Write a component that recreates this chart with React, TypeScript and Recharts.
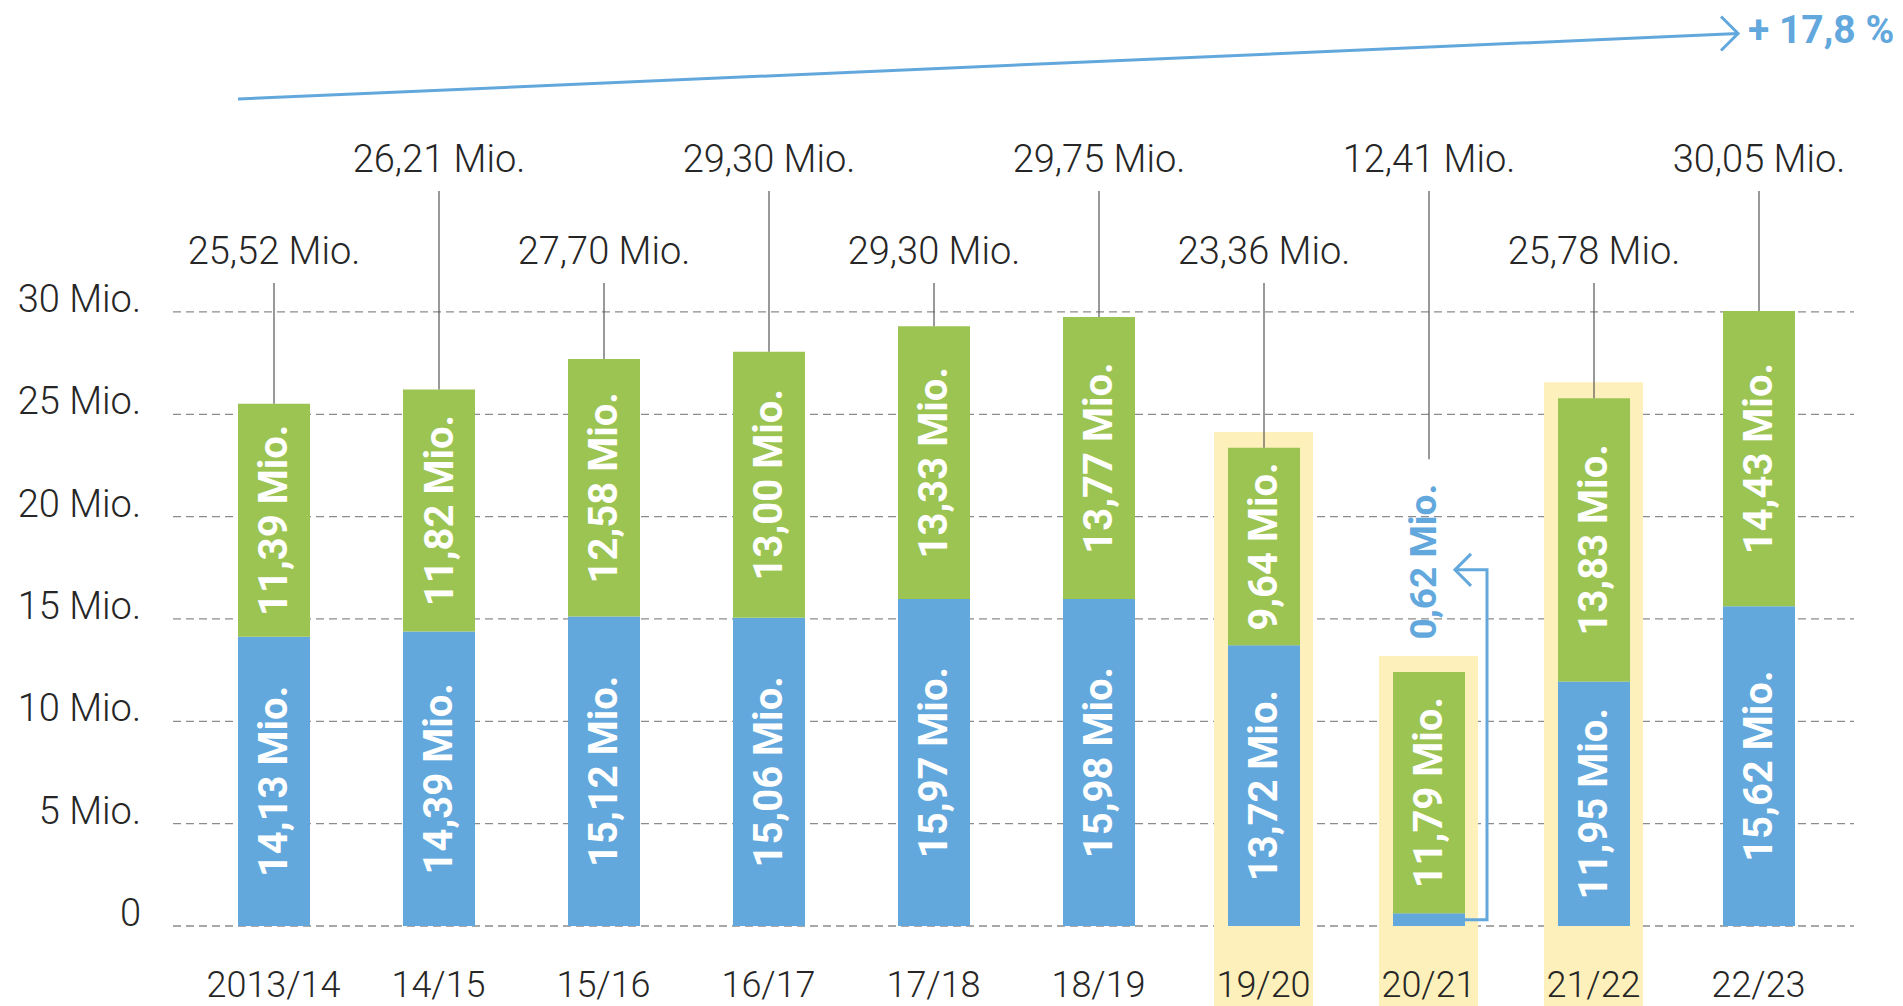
import React from 'react';
import {
    BarChart,
    Bar,
    XAxis,
    YAxis,
    CartesianGrid,
    LabelList,
    ReferenceArea,
    ReferenceLine
} from 'recharts';

const categories = ['2013/14', '14/15', '15/16', '16/17', '17/18', '18/19', '19/20', '20/21', '21/22', '22/23'];
const blueValues = [14.13, 14.39, 15.12, 15.06, 15.97, 15.98, 13.72, 0.62, 11.95, 15.62];
const greenValues = [11.39, 11.82, 12.58, 13.0, 13.33, 13.77, 9.64, 11.79, 13.83, 14.43];
const totalLabels = [25.52, 26.21, 27.7, 29.3, 29.3, 29.75, 23.36, 12.41, 25.78, 30.05];
const highlighted = ['19/20', '20/21', '21/22'];
const yTicks = [0, 5, 10, 15, 20, 25, 30];
const trendLabel = '+ 17,8 %';
// trend arrow in data units (hidden numeric x axis, y in Mio.)
const trendStart = { x: -0.215, y: 40.4 };
const trendEnd = { x: 8.876, y: 43.6 };

const BLUE = '#62a8dd';
const GREEN = '#9bc452';
const YELLOW = '#fdf0bb';
const TEXT = '#262626';
const LIGHT_FONT = 'Roboto, "DejaVu Sans", sans-serif';
const BOLD_FONT = 'Roboto, "DejaVu Sans", sans-serif';

const data = categories.map((category, i) => ({
    category,
    idx: i,
    blue: blueValues[i],
    green: greenValues[i],
    total: blueValues[i] + greenValues[i],
}));

const fmt = (v: number) => v.toFixed(2).replace('.', ',') + ' Mio.';

const box = (props: any) => {
    const vb = props.viewBox && props.viewBox.width !== undefined ? props.viewBox : props;
    return { x: Number(vb.x), y: Number(vb.y), width: Number(vb.width), height: Number(vb.height) };
};

const innerLabel = (cx: number, cy: number, text: string) => (
    <text
        x={cx}
        y={cy}
        transform={`rotate(-90, ${cx}, ${cy})`}
        textAnchor="middle"
        dominantBaseline="central"
        fill="#fff"
        fontFamily={BOLD_FONT}
        fontWeight={700}
        fontSize={40}
    >
        {text}
    </text>
);

const GreenLabel = (props: any) => {
    const i = props.index;
    const { x, y, width, height } = box(props);
    const cx = x + width / 2;
    const ppu = height / greenValues[i];
    const base = y + height + blueValues[i] * ppu;
    const rowY = i % 2 === 0 ? 251 : 159;
    const lineEnd = i === 7 ? base - 22.8 * ppu : y;
    return (
        <g>
            <text
                x={cx}
                y={rowY}
                textAnchor="middle"
                dominantBaseline="central"
                fill={TEXT}
                fontFamily={LIGHT_FONT}
                fontWeight={300}
                fontSize={38}
            >
                {fmt(totalLabels[i])}
            </text>
            <line x1={cx} y1={rowY + 32} x2={cx} y2={lineEnd} stroke="#555" strokeWidth={1.2} />
            {innerLabel(cx, y + height / 2, fmt(greenValues[i]))}
        </g>
    );
};

const BlueLabel = (props: any) => {
    const i = props.index;
    const { x, y, width, height } = box(props);
    const cx = x + width / 2;
    if (i !== 7) return innerLabel(cx, y + height / 2, fmt(blueValues[i]));
    const ppu = height / blueValues[i];
    const base = y + height;
    const right = x + width;
    const arrowY = base - 17.4 * ppu;
    const labelY = base - 17.8 * ppu;
    const tip = right - 10;
    return (
        <g>
            <polyline
                points={`${right},${y + height / 2} ${right + 22},${y + height / 2} ${right + 22},${arrowY} ${tip},${arrowY}`}
                fill="none"
                stroke={BLUE}
                strokeWidth={3}
            />
            <polyline
                points={`${tip + 16},${arrowY - 16} ${tip},${arrowY} ${tip + 16},${arrowY + 16}`}
                fill="none"
                stroke={BLUE}
                strokeWidth={3}
            />
            <text
                x={cx - 6}
                y={labelY}
                transform={`rotate(-90, ${cx - 6}, ${labelY})`}
                textAnchor="middle"
                dominantBaseline="central"
                fill={BLUE}
                fontFamily={BOLD_FONT}
                fontWeight={700}
                fontSize={37}
            >
                {fmt(blueValues[i])}
            </text>
        </g>
    );
};

const TrendShape = (props: any) => {
    const { x1, y1, x2, y2 } = props;
    return (
        <g>
            <line x1={x1} y1={y1} x2={x2} y2={y2} stroke={BLUE} strokeWidth={3} />
            <polyline
                points={`${x2 - 17},${y2 - 17} ${x2},${y2} ${x2 - 17},${y2 + 17}`}
                fill="none"
                stroke={BLUE}
                strokeWidth={3}
            />
            <text
                x={x2 + 10}
                y={y2 - 4}
                dominantBaseline="central"
                fill={BLUE}
                fontFamily={BOLD_FONT}
                fontWeight={700}
                fontSize={39}
            >
                {trendLabel}
            </text>
        </g>
    );
};

const XTick = (props: any) => (
    <text
        x={props.x}
        y={props.y + 59}
        textAnchor="middle"
        dominantBaseline="central"
        fill={TEXT}
        fontFamily={LIGHT_FONT}
        fontWeight={300}
        fontSize={36}
    >
        {props.payload.value}
    </text>
);

const YTick = (props: any) => (
    <text
        x={props.x - 32}
        y={props.y - 13}
        textAnchor="end"
        dominantBaseline="central"
        fill={TEXT}
        fontFamily={LIGHT_FONT}
        fontWeight={300}
        fontSize={38}
    >
        {props.payload.value === 0 ? '0' : `${props.payload.value} Mio.`}
    </text>
);

export default function App() {
    return (
        <div style={{ position: 'absolute', left: 0, top: 0, width: 1903, height: 1006, background: '#fff' }}>
            <BarChart
                width={1903}
                height={1006}
                data={data}
                margin={{ top: 271, right: 49, bottom: 0, left: 0 }}
                barSize={72}
            >
                <CartesianGrid
                    vertical={false}
                    horizontalValues={yTicks}
                    stroke="#8c8c8c"
                    strokeWidth={1.3}
                    strokeDasharray="8 5"
                />
                {highlighted.map((c) => {
                    const i = categories.indexOf(c);
                    return (
                        <ReferenceArea
                            key={c}
                            xAxisId="n"
                            x1={i - 0.3}
                            x2={i + 0.3}
                            y1={-4}
                            y2={blueValues[i] + greenValues[i] + 0.78}
                            fill={YELLOW}
                            fillOpacity={1}
                            stroke="none"
                            ifOverflow="visible"
                        />
                    );
                })}
                <XAxis
                    dataKey="category"
                    height={80}
                    padding={{ left: 18, right: 13 }}
                    axisLine={false}
                    tickLine={false}
                    tickSize={0}
                    tickMargin={0}
                    interval={0}
                    tick={<XTick />}
                />
                <XAxis
                    xAxisId="n"
                    dataKey="idx"
                    type="number"
                    domain={[-0.5, 9.5]}
                    allowDataOverflow
                    padding={{ left: 18, right: 13 }}
                    hide
                />
                <YAxis
                    width={173}
                    domain={[0, 32]}
                    ticks={yTicks}
                    axisLine={false}
                    tickLine={false}
                    tickSize={0}
                    tickMargin={0}
                    tick={<YTick />}
                />
                <Bar dataKey="blue" stackId="a" fill={BLUE} isAnimationActive={false}>
                    <LabelList dataKey="blue" content={<BlueLabel />} />
                </Bar>
                <Bar dataKey="green" stackId="a" fill={GREEN} isAnimationActive={false}>
                    <LabelList dataKey="green" content={<GreenLabel />} />
                </Bar>
                <ReferenceLine
                    xAxisId="n"
                    segment={[trendStart, trendEnd]}
                    ifOverflow="visible"
                    shape={<TrendShape />}
                />
            </BarChart>
        </div>
    );
}
